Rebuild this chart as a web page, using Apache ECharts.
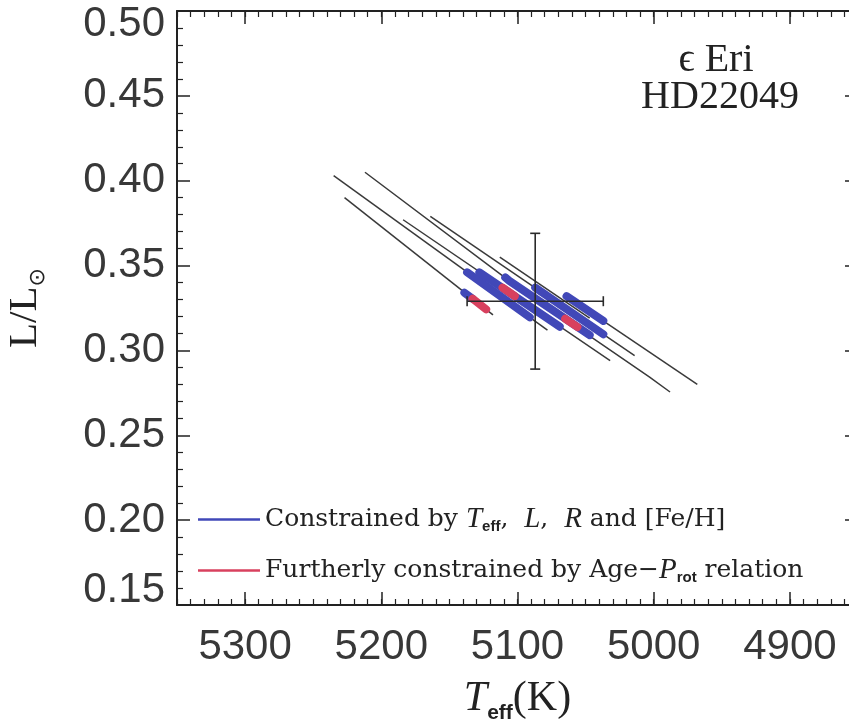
<!DOCTYPE html>
<html><head><meta charset="utf-8">
<script src="https://cdn.jsdelivr.net/npm/echarts@6/dist/echarts.min.js"></script>
<style>html,body{margin:0;padding:0;background:#fff}#c{width:849px;height:728px}</style>
</head><body><div id="c"></div>
<script>
// ---- data ----
const xMajorTicks = [5300, 5200, 5100, 5000, 4900];
const xTickLabels = ['5300', '5200', '5100', '5000', '4900'];
const yTickLabels = ['0.15', '0.20', '0.25', '0.30', '0.35', '0.40', '0.45', '0.50'];

// evolutionary tracks [Teff, L/Lsun]
const trackA = [[5235, 0.403], [5078, 0.312]];
const trackB = [[5212, 0.405], [5106, 0.341], [5003, 0.2843], [4988, 0.2755]];
const trackC = [[5227, 0.390], [5118, 0.321]];
const trackD = [[5184, 0.377], [5032, 0.294]];
const trackE = [[5164, 0.379], [5014, 0.297]];
const trackF = [[5113, 0.355], [5047, 0.319]];
const trackG = [[5064, 0.332], [4968, 0.280]];

// constrained by Teff, L, R, [Fe/H] (blue)
const blueA = [[5137, 0.346], [5091, 0.3195]];
const blueB = [[5109, 0.343], [5106, 0.341], [5047, 0.309]];
const blueC = [[5139, 0.334], [5133, 0.3305]];
const blueD = [[5128, 0.346], [5069, 0.314]];
const blueE = [[5087, 0.337], [5037, 0.3095]];
const blueG = [[5064, 0.332], [5037, 0.3174]];

// further constrained by Age-Prot (red)
const redB = [[5065, 0.3187], [5056, 0.3138]];
const redC = [[5133, 0.3305], [5123, 0.3242]];
const redD = [[5111, 0.337], [5102, 0.332]];

// observed point with error bars: [Teff, L, dTeff, dL]
const obsPoint = [[5087, 0.329, 50, 0.04]];

// ---- chart ----
const xMin = 4850, xMax = 5350;
const xMinorTicks = [];
for (let v = xMin; v <= xMax; v += 10) xMinorTicks.push(v);

const ink = '#222';
const tickFont = 'Liberation Sans';
const tickColor = '#383838';
const tickSize = 42;
const legendFont = 'DejaVu Serif';

function trackSeries(d) {
  return { type: 'line', name: 'track', data: d, symbol: 'none', silent: true, z: 2,
    lineStyle: { color: '#3a3a3a', width: 1.5 }, animation: false };
}
function segSeries(name, d, color, z) {
  return { type: 'line', name: name, data: d, symbol: 'none', silent: true, z: z,
    itemStyle: { color: color },
    lineStyle: { color: color, width: 8, cap: 'round', join: 'round' }, animation: false };
}

const blueColor = '#4148b8';
const redColor = '#d8405e';

const xCommon = { type: 'value', min: xMin, max: xMax, inverse: true, splitLine: { show: false } };
const labelRich = {
  n: { fontFamily: tickFont, fontSize: tickSize, color: tickColor },
  top: { fontFamily: tickFont, fontSize: tickSize, color: tickColor, padding: [26, 0, 0, 0] },
  bot: { fontFamily: tickFont, fontSize: tickSize, color: tickColor, padding: [0, 0, 30, 0] }
};

const legendRich = {
  t: { fontFamily: legendFont, fontSize: 25, color: ink, lineHeight: 30 },
  i: { fontFamily: 'Liberation Serif', fontStyle: 'italic', fontSize: 29, color: ink, lineHeight: 30 },
  s: { fontFamily: 'Liberation Sans', fontWeight: 'bold', fontSize: 15, color: ink, lineHeight: 14, verticalAlign: 'bottom' }
};

const option = {
  animation: false,
  backgroundColor: '#fff',
  grid: { left: 177, top: 11, width: 681, height: 594, containLabel: false, outerBoundsMode: 'none' },
  xAxis: [
    Object.assign({}, xCommon, {
      position: 'bottom',
      axisLine: { show: true, onZero: false, lineStyle: { color: ink, width: 2 } },
      axisTick: { show: true, inside: true, length: 13, customValues: xMajorTicks, lineStyle: { color: ink, width: 1.5 } },
      axisLabel: { show: true, customValues: xMajorTicks, margin: 21,
        formatter: (v) => xTickLabels[xMajorTicks.indexOf(v)] || '',
        fontFamily: tickFont, fontSize: tickSize, color: tickColor },
      name: '{i|T}{s|eff}{n|(K)}', nameLocation: 'middle', nameGap: 69,
      nameTextStyle: { rich: {
        i: { fontFamily: 'Liberation Serif', fontStyle: 'italic', fontSize: 42, color: ink, lineHeight: 50 },
        s: { fontFamily: 'Liberation Sans', fontWeight: 'bold', fontSize: 21, color: ink, lineHeight: 22, verticalAlign: 'bottom' },
        n: { fontFamily: 'Liberation Serif', fontSize: 42, color: ink, lineHeight: 50 }
      } }
    }),
    Object.assign({}, xCommon, {
      position: 'bottom',
      axisLine: { show: false, onZero: false },
      axisTick: { show: true, inside: true, length: 6, customValues: xMinorTicks, lineStyle: { color: ink, width: 1.2 } },
      axisLabel: { show: false }
    }),
    Object.assign({}, xCommon, {
      position: 'top',
      axisLine: { show: true, onZero: false, lineStyle: { color: ink, width: 2 } },
      axisTick: { show: true, inside: true, length: 13, customValues: xMajorTicks, lineStyle: { color: ink, width: 1.5 } },
      axisLabel: { show: false }
    }),
    Object.assign({}, xCommon, {
      position: 'top',
      axisLine: { show: false, onZero: false },
      axisTick: { show: true, inside: true, length: 6, customValues: xMinorTicks, lineStyle: { color: ink, width: 1.2 } },
      axisLabel: { show: false }
    })
  ],
  yAxis: [
    {
      type: 'value', position: 'left', min: 0.15, max: 0.5, interval: 0.05,
      splitLine: { show: false },
      axisLine: { show: true, onZero: false, lineStyle: { color: ink, width: 2 } },
      axisTick: { show: true, inside: true, length: 13, lineStyle: { color: ink, width: 1.5 } },
      minorTick: { show: true, splitNumber: 5, length: 6, lineStyle: { color: ink, width: 1.2 } },
      axisLabel: { show: true, margin: 12,
        formatter: (v) => {
          const s = v.toFixed(2);
          const k = yTickLabels.indexOf(s);
          if (k < 0) return '';
          if (k === yTickLabels.length - 1) return '{top|' + yTickLabels[k] + '}';
          if (k === 0) return '{bot|' + yTickLabels[k] + '}';
          return '{n|' + yTickLabels[k] + '}';
        },
        rich: labelRich },
      name: '{n|L/L}{s|⊙}', nameLocation: 'middle', nameRotate: 90, nameGap: 128,
      nameTextStyle: { rich: {
        n: { fontFamily: 'Liberation Serif', fontSize: 41, color: ink, lineHeight: 48 },
        s: { fontFamily: 'DejaVu Sans', fontSize: 22, color: ink, lineHeight: 22, verticalAlign: 'bottom' }
      } }
    },
    {
      type: 'value', position: 'right', min: 0.15, max: 0.5, interval: 0.05,
      splitLine: { show: false },
      axisLine: { show: true, onZero: false, lineStyle: { color: ink, width: 2 } },
      axisTick: { show: true, inside: true, length: 13, lineStyle: { color: ink, width: 1.5 } },
      minorTick: { show: true, splitNumber: 5, length: 6, lineStyle: { color: ink, width: 1.2 } },
      axisLabel: { show: false }
    }
  ],
  legend: [
    { data: ['Constrained'], left: 198, top: 505, orient: 'vertical', icon: 'rect',
      itemWidth: 62, itemHeight: 2.5, selectedMode: false, padding: 0, itemGap: 0,
      formatter: () => '{t|Constrained by }{i|T}{s|eff}{t|,  }{i|L}{t|,  }{i|R}{t| and [Fe/H]}',
      textStyle: { rich: legendRich } },
    { data: ['Further'], left: 198, top: 556, orient: 'vertical', icon: 'rect',
      itemWidth: 62, itemHeight: 2.5, selectedMode: false, padding: 0, itemGap: 0,
      formatter: () => '{t|Furtherly constrained by Age−}{i|P}{s|rot}{t| relation}',
      textStyle: { rich: legendRich } }
  ],
  graphic: [
    { type: 'text', x: 716, y: 60, z: 10,
      style: { text: 'ϵ Eri', fontFamily: 'Liberation Serif', fontSize: 40, fill: ink, textAlign: 'center', textVerticalAlign: 'middle', verticalAlign: 'middle' } },
    { type: 'text', x: 720, y: 97, z: 10,
      style: { text: 'HD22049', fontFamily: 'Liberation Serif', fontSize: 40, fill: ink, textAlign: 'center', textVerticalAlign: 'middle', verticalAlign: 'middle' } }
  ],
  series: [
    trackSeries(trackA), trackSeries(trackB), trackSeries(trackC), trackSeries(trackD),
    trackSeries(trackE), trackSeries(trackF), trackSeries(trackG),
    segSeries('Constrained', blueA, blueColor, 3),
    segSeries('Constrained', blueB, blueColor, 3),
    segSeries('Constrained', blueC, blueColor, 3),
    segSeries('Constrained', blueD, blueColor, 3),
    segSeries('Constrained', blueE, blueColor, 3),
    segSeries('Constrained', blueG, blueColor, 3),
    segSeries('Further', redB, redColor, 4),
    segSeries('Further', redC, redColor, 4),
    segSeries('Further', redD, redColor, 4),
    {
      type: 'custom', name: 'obs', data: obsPoint, z: 6, silent: true, animation: false,
      renderItem: (params, api) => {
        const t = api.value(0), l = api.value(1), dt = api.value(2), dl = api.value(3);
        const pl = api.coord([t + dt, l]), pr = api.coord([t - dt, l]);
        const pt = api.coord([t, l + dl]), pb = api.coord([t, l - dl]);
        const cap = 5;
        const st = { stroke: '#2a2a2a', lineWidth: 1.6 };
        const ln = (x1, y1, x2, y2) => ({ type: 'line', shape: { x1, y1, x2, y2 }, style: st });
        return { type: 'group', children: [
          ln(pl[0], pl[1], pr[0], pr[1]),
          ln(pt[0], pt[1], pb[0], pb[1]),
          ln(pl[0], pl[1] - cap, pl[0], pl[1] + cap),
          ln(pr[0], pr[1] - cap, pr[0], pr[1] + cap),
          ln(pt[0] - cap, pt[1], pt[0] + cap, pt[1]),
          ln(pb[0] - cap, pb[1], pb[0] + cap, pb[1])
        ] };
      }
    }
  ]
};

const chart = echarts.init(document.getElementById('c'), null, { renderer: 'canvas' });
chart.setOption(option);
</script>
</body></html>
